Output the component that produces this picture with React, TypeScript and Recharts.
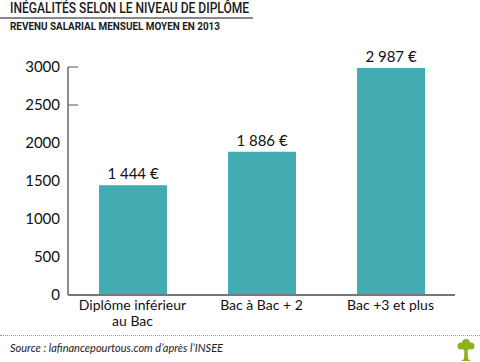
import { BarChart, Bar, XAxis, YAxis, LabelList } from 'recharts'

const categories = ['Diplôme inférieur\nau Bac', 'Bac à Bac + 2', 'Bac +3 et plus']
const revenus = [1444, 1886, 2987]
const yTicks = [0, 500, 1000, 1500, 2000, 2500, 3000]

const data = categories.map((c, i) => ({ name: c, value: revenus[i] }))

const FONT = 'Lato, "Open Sans", sans-serif'
const TEAL = '#43abb1'

function fmt(v: number) {
  return `${String(v).replace(/\B(?=(\d{3})+(?!\d))/g, ' ')} €`
}

function YTick(props: any) {
  const { y, payload } = props
  const v = payload.value as number
  return (
    <g>
      <text x={60} y={y} dy={5} textAnchor="end" fontSize={15} fill="#111" fontFamily={FONT}>
        {v}
      </text>
      {v >= 2500 && <line x1={68} x2={78} y1={y} y2={y} stroke="#555" strokeWidth={1} />}
    </g>
  )
}

function XTick(props: any) {
  const { x, payload } = props
  const lines = String(payload.value).split('\n')
  return (
    <g>
      {lines.map((l, i) => (
        <text key={i} x={x} y={310 + i * 16} textAnchor="middle" fontSize={14} fill="#111" fontFamily={FONT}>
          {l}
        </text>
      ))}
    </g>
  )
}

export default function App() {
  return (
    <div
      style={{
        position: 'absolute',
        top: 0,
        left: 0,
        width: 480,
        height: 362,
        background: '#fff',
        fontFamily: FONT,
        overflow: 'hidden',
      }}
    >
      <div
        style={{
          position: 'absolute',
          left: 10,
          top: 0,
          fontFamily: 'Roboto, sans-serif',
          fontWeight: 500,
          fontSize: 14,
          color: '#1a1a1a',
          whiteSpace: 'nowrap',
          transform: 'scaleX(0.86)',
          transformOrigin: 'left top',
        }}
      >
        INÉGALITÉS SELON LE NIVEAU DE DIPLÔME
      </div>
      <div style={{ position: 'absolute', left: 0, top: 17, width: 253, height: 2, background: '#888' }} />
      <div
        style={{
          position: 'absolute',
          left: 10,
          top: 20,
          fontFamily: 'Roboto, sans-serif',
          fontWeight: 700,
          fontSize: 11,
          color: '#1a1a1a',
          whiteSpace: 'nowrap',
          transform: 'scaleX(0.9)',
          transformOrigin: 'left top',
        }}
      >
        REVENU SALARIAL MENSUEL MOYEN EN 2013
      </div>
      <div style={{ position: 'absolute', top: 0, left: 0 }}>
        <BarChart width={480} height={335} data={data} margin={{ top: 67, right: 25, left: 0, bottom: 0 }}>
          <YAxis
            domain={[0, 3000]}
            ticks={yTicks}
            interval={0}
            width={68}
            tickLine={false}
            axisLine={{ stroke: '#666', strokeWidth: 1.5 }}
            tick={<YTick />}
          />
          <XAxis
            dataKey="name"
            height={40}
            tickLine={false}
            interval={0}
            axisLine={{ stroke: '#777', strokeWidth: 2 }}
            tick={<XTick />}
          />
          <Bar dataKey="value" fill={TEAL} barSize={68} isAnimationActive={false}>
            <LabelList
              dataKey="value"
              position="top"
              offset={6}
              formatter={(v: any) => fmt(Number(v))}
              style={{ fontSize: 15, fill: '#111', fontFamily: FONT }}
            />
          </Bar>
        </BarChart>
      </div>
      <div
        style={{
          position: 'absolute',
          left: 0,
          top: 335,
          width: 480,
          height: 0,
          borderTop: '1.5px dotted #999',
        }}
      />
      <div
        style={{
          position: 'absolute',
          left: 10,
          top: 341,
          fontSize: 11,
          fontStyle: 'italic',
          color: '#222',
          whiteSpace: 'nowrap',
        }}
      >
        Source : lafinancepourtous.com d’après l’INSEE
      </div>
      <svg style={{ position: 'absolute', left: 456, top: 337 }} width={20} height={24}>
        <g fill="#8cb21d">
          <circle cx={10} cy={6} r={4} />
          <circle cx={5} cy={9} r={3.5} />
          <circle cx={15} cy={9} r={3.5} />
          <circle cx={10} cy={11} r={3} />
          <path d="M8.5 11 L11.5 11 L12 22 L15 24 L5 24 L8 22 Z" />
        </g>
      </svg>
    </div>
  )
}
